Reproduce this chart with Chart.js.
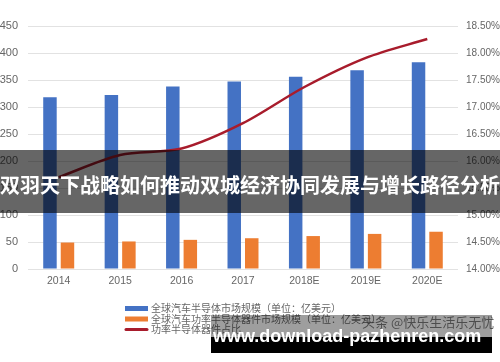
<!DOCTYPE html>
<html>
<head>
<meta charset="utf-8">
<script src="https://cdn.jsdelivr.net/npm/chart.js@4/dist/chart.umd.min.js"></script>
<style>
  html, body { margin: 0; padding: 0; background: #fff; }
  #wrap { position: relative; width: 500px; height: 362px; overflow: hidden; }
  #c { position: absolute; left: 0; top: 0; }
  .band { position: absolute; left: 0; top: 150px; width: 500px; height: 63px; background: rgba(0,0,0,0.6); }
  .bandText { position: absolute; left: 0; top: 172px; width: 520px; line-height: 26px; font-size: 20px; font-weight: 700;
    color: #fff; white-space: nowrap; font-family: "Noto Sans CJK SC", sans-serif; }
  .wmGray { position: absolute; left: 211px; top: 315px; width: 281px; height: 22px; background: rgba(0,0,0,0.38); }
  .wmBlack { position: absolute; left: 211px; top: 337px; width: 281px; height: 16px; background: #000; }
  .wmTT { position: absolute; left: 362px; top: 314px; line-height: 16px; font-size: 13px; color: rgba(50,50,50,0.75);
    white-space: nowrap; font-family: "Noto Sans CJK SC", sans-serif; }
  .wmText { position: absolute; left: 213px; top: 325px; line-height: 22px; font-size: 18px; font-weight: 700; color: #fff;
    white-space: nowrap; font-family: "Liberation Sans", Arial, sans-serif; }
</style>
</head>
<body>
<div id="wrap">
  <canvas id="c" width="500" height="362"></canvas>
  <div class="band"></div>
  <div class="bandText">双羽天下战略如何推动双城经济协同发展与增长路径分析</div>
  <div class="wmGray"></div>
  <div class="wmBlack"></div>
  <div class="wmTT">头条 @快乐生活乐无忧</div>
  <div class="wmText">www.download-pazhenren.com</div>
</div>
<script>
const categories = ['2014', '2015', '2016', '2017', '2018E', '2019E', '2020E'];
const globalAutoSemi = [318, 322, 338, 347, 356, 368, 383];
const globalAutoPowerSemi = [49, 51, 54, 57, 61, 65, 69];
const powerShare = [15.70, 16.11, 16.23, 16.70, 17.37, 17.91, 18.26];
const seriesNames = [
  '全球汽车半导体市场规模（单位：亿美元）',
  '全球汽车功率半导体器件市场规模（单位：亿美元）',
  '功率半导体器件占比'
];

const FONT = "'Liberation Sans', 'Noto Sans CJK SC', sans-serif";

const legendPlugin = {
  id: 'stackLegend',
  afterDraw(chart) {
    const ctx = chart.ctx;
    const rows = [308.5, 319, 329.5];
    ctx.save();
    ctx.font = "10px 'Noto Sans CJK SC', sans-serif";
    ctx.textBaseline = 'middle';
    ctx.textAlign = 'left';
    chart.data.datasets.forEach((ds, i) => {
      const y = rows[i];
      if (ds.type === 'line') {
        ctx.strokeStyle = ds.borderColor;
        ctx.lineWidth = 3;
        ctx.lineCap = 'round';
        ctx.beginPath();
        ctx.moveTo(126, y);
        ctx.lineTo(147, y);
        ctx.stroke();
      } else {
        ctx.fillStyle = ds.backgroundColor;
        ctx.fillRect(125, y - 2.5, 23, 5);
      }
      ctx.fillStyle = '#666';
      ctx.fillText(ds.label, 151, y);
    });
    ctx.restore();
  }
};

new Chart(document.getElementById('c'), {
  type: 'bar',
  data: {
    labels: categories,
    datasets: [
      {
        type: 'bar', label: seriesNames[0], data: globalAutoSemi,
        backgroundColor: '#4472c4', yAxisID: 'y', order: 1,
        categoryPercentage: 0.57, barPercentage: 0.77
      },
      {
        type: 'bar', label: seriesNames[1], data: globalAutoPowerSemi,
        backgroundColor: '#ed7d31', yAxisID: 'y', order: 1,
        categoryPercentage: 0.57, barPercentage: 0.77
      },
      {
        type: 'line', label: seriesNames[2], data: powerShare,
        borderColor: '#a81c2c', borderWidth: 2.5, pointRadius: 0, tension: 0.3,
        fill: false, yAxisID: 'y1', order: 0
      }
    ]
  },
  options: {
    responsive: false,
    animation: false,
    devicePixelRatio: 1,
    layout: { padding: { top: 26, left: 0, right: 0, bottom: 0 } },
    plugins: { legend: { display: false }, tooltip: { enabled: false } },
    scales: {
      x: {
        grid: { display: false, drawTicks: false },
        border: { display: false },
        ticks: { color: '#666', font: { size: 10.5, family: FONT }, padding: 6, maxRotation: 0 },
        afterFit(s) { s.height = 93; }
      },
      y: {
        position: 'left', min: 0, max: 450,
        ticks: { stepSize: 50, color: '#666', font: { size: 11, family: FONT }, padding: 10 },
        grid: { color: '#e2e2e2', lineWidth: 1, drawTicks: false },
        border: { display: false },
        afterFit(s) { s.width = 28; }
      },
      y1: {
        position: 'right', min: 14, max: 18.5,
        ticks: { stepSize: 0.5, color: '#666', font: { size: 10, family: FONT }, padding: 8,
          callback: v => v.toFixed(2) + '%' },
        grid: { display: false, drawTicks: false },
        border: { display: false },
        afterFit(s) { s.width = 42; }
      }
    }
  },
  plugins: [legendPlugin]
});
</script>
</body>
</html>
